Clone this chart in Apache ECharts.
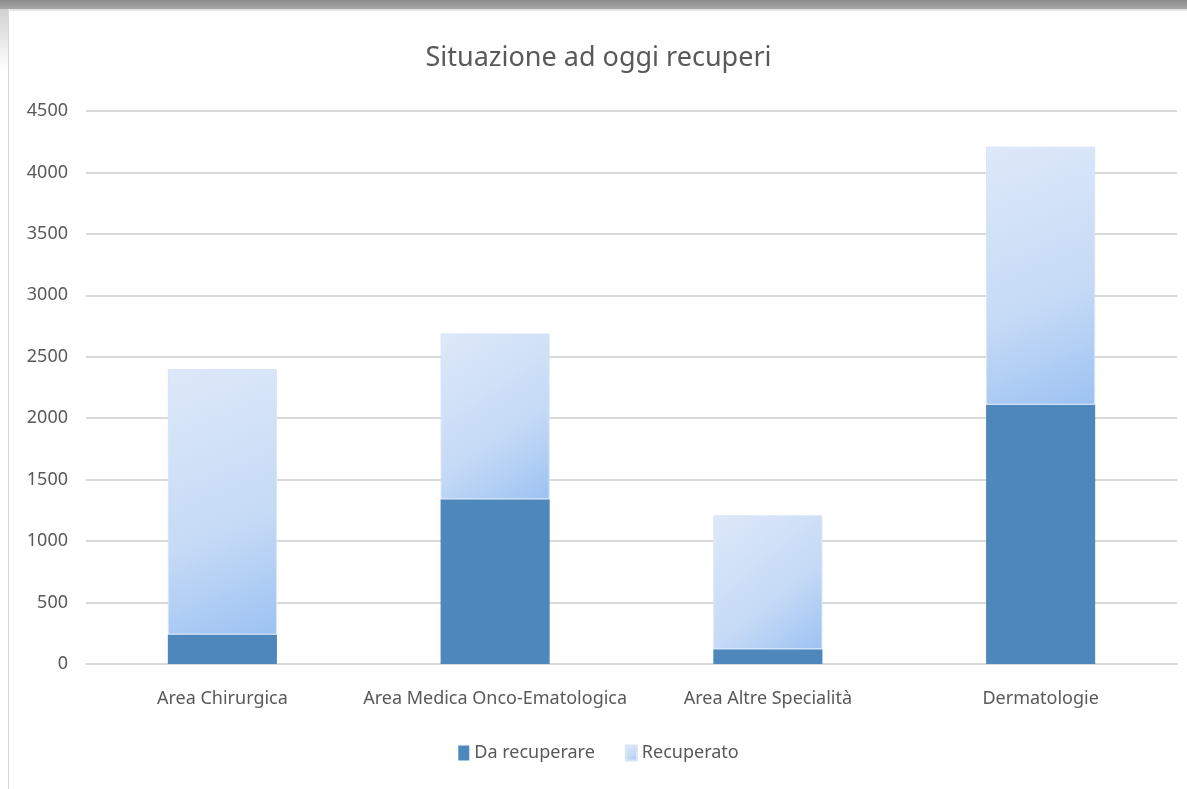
<!DOCTYPE html>
<html>
<head>
<meta charset="utf-8">
<script src="https://cdn.jsdelivr.net/npm/echarts@6/dist/echarts.min.js"></script>
<style>
    html, body {
        margin: 0;
        padding: 0;
        background: #fff;
    }
    .frame {
        position: relative;
        width: 1187px;
        height: 789px;
        overflow: hidden;
        background: #fff;
    }
    .top-band {
        position: absolute;
        left: 0;
        top: 0;
        width: 1187px;
        height: 9px;
        background: linear-gradient(to bottom, #8c8c8c, #a6a6a6);
        border-bottom: 2px solid #e4e4e4;
    }
    .left-shade {
        position: absolute;
        left: 0;
        top: 9px;
        width: 8px;
        height: 60px;
        background: linear-gradient(to bottom, #d0d0d0, #ffffff);
    }
    #chart {
        position: absolute;
        left: 8px;
        top: 11px;
        width: 1179px;
        height: 778px;
        border-left: 1px solid #d9d9d9;
    }
</style>
</head>
<body>
<div class="frame">
    <div class="top-band"></div>
    <div class="left-shade"></div>
    <div id="chart"></div>
</div>
<script>
// categorie
const categories = ['Area Chirurgica', 'Area Medica Onco-Ematologica', 'Area Altre Specialità', 'Dermatologie']

// valori delle serie (impilate)
const daRecuperare = [240, 1340, 120, 2110]
const recuperato = [2160, 1350, 1090, 2100]

// tacche asse y
const yMin = 0
const yMax = 4500
const yStep = 500

const fontFamily = '"Noto Sans", "Open Sans", sans-serif'
const textColor = '#595959'

const chart = echarts.init(document.getElementById('chart'))

chart.setOption({
    animation: false,
    title: {
        text: 'Situazione ad oggi recuperi',
        left: 'center',
        top: 29,
        textStyle: {
            fontFamily: fontFamily,
            fontSize: 27,
            fontWeight: 'normal',
            color: textColor,
        },
    },
    legend: {
        bottom: 22,
        left: 'center',
        icon: 'rect',
        itemWidth: 11,
        itemHeight: 15,
        itemGap: 30,
        textStyle: {
            fontFamily: fontFamily,
            fontSize: 18,
            color: textColor,
        },
        data: ['Da recuperare', 'Recuperato'],
    },
    grid: {
        left: 77,
        right: 11,
        top: 100,
        bottom: 125,
    },
    xAxis: {
        type: 'category',
        data: categories,
        axisLine: {
            lineStyle: { color: '#d9d9d9', width: 2 },
        },
        axisTick: { show: false },
        axisLabel: {
            interval: 0,
            margin: 26,
            fontFamily: fontFamily,
            fontSize: 18,
            color: textColor,
        },
    },
    yAxis: {
        type: 'value',
        min: yMin,
        max: yMax,
        interval: yStep,
        axisLine: { show: false },
        axisTick: { show: false },
        splitLine: {
            lineStyle: { color: '#d9d9d9', width: 2 },
        },
        axisLabel: {
            margin: 18,
            fontFamily: fontFamily,
            fontSize: 18,
            color: textColor,
            formatter: (v) => String(v),
        },
    },
    series: [
        {
            name: 'Da recuperare',
            type: 'bar',
            stack: 'totale',
            barWidth: '40%',
            data: daRecuperare,
            itemStyle: {
                color: '#4e87bb',
            },
        },
        {
            name: 'Recuperato',
            type: 'bar',
            stack: 'totale',
            barWidth: '40%',
            data: recuperato,
            itemStyle: {
                color: new echarts.graphic.LinearGradient(0, 0, 1, 1, [
                    { offset: 0, color: '#dee9f9' },
                    { offset: 0.6, color: '#c5daf6' },
                    { offset: 1, color: '#9cc2f2' },
                ]),
                borderColor: '#d7e5f8',
                borderWidth: 1,
            },
        },
    ],
})
</script>
</body>
</html>
